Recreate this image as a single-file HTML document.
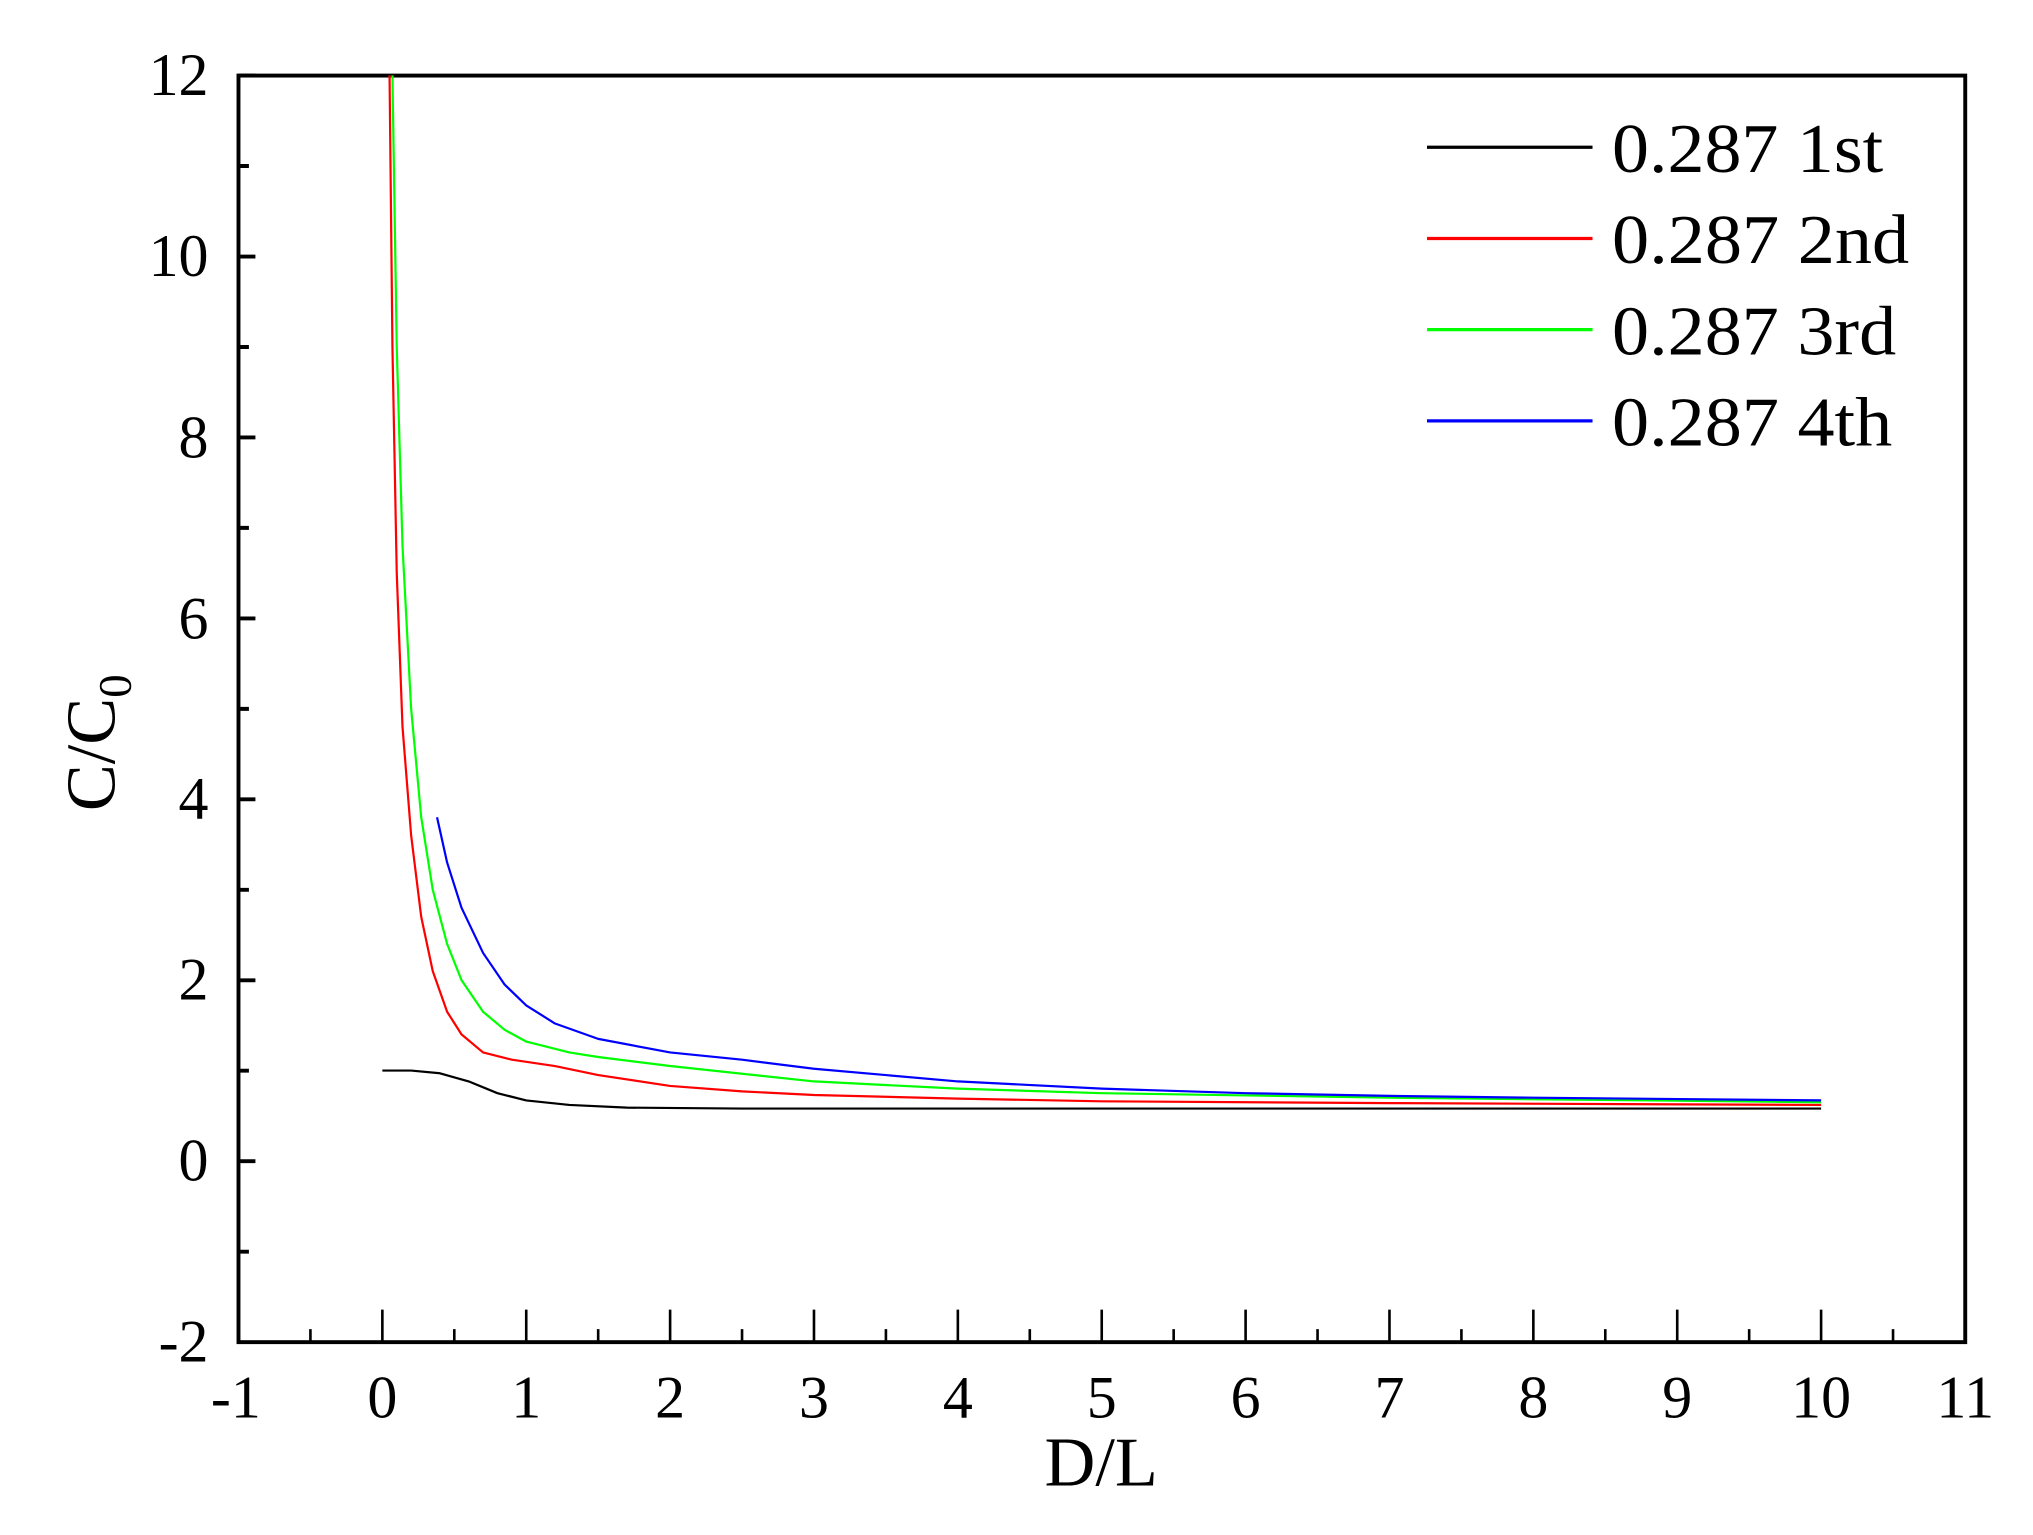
<!DOCTYPE html>
<html><head><meta charset="utf-8"><style>html,body{margin:0;padding:0;background:#fff}svg{display:block}</style></head>
<body>
<svg width="2033" height="1535" viewBox="0 0 1560 1178" preserveAspectRatio="none" xmlns="http://www.w3.org/2000/svg" font-family="Liberation Serif, serif">
<rect width="1560" height="1178" fill="#fff"/>
<g stroke="#000" stroke-width="3" fill="none">
<rect x="183" y="58" width="1325" height="972"/>
<!-- y ticks -->
<path d="M183 58h13M183 127.4h8M183 196.9h13M183 266.3h8M183 335.7h13M183 405.1h8M183 474.6h13M183 544h8M183 613.4h13M183 682.9h8M183 752.3h13M183 821.7h8M183 891.1h13M183 960.6h8"/>
<!-- x ticks -->
<g stroke-width="2">
<path d="M238.2 1030v-10M293.4 1030v-25M348.6 1030v-10M403.8 1030v-25M459 1030v-10M514.2 1030v-25M569.4 1030v-10M624.6 1030v-25M679.8 1030v-10M735 1030v-25M790.2 1030v-10M845.4 1030v-25M900.6 1030v-10M955.8 1030v-25M1011 1030v-10M1066.2 1030v-25M1121.4 1030v-10M1176.6 1030v-25M1231.8 1030v-10M1287 1030v-25M1342.2 1030v-10M1397.4 1030v-25M1452.6 1030v-10"/>
</g>
</g>
<g font-size="46" text-anchor="end" fill="#000">
<text x="160" y="73">12</text><text x="160" y="212">10</text><text x="160" y="351">8</text><text x="160" y="490">6</text><text x="160" y="628">4</text><text x="160" y="767">2</text><text x="160" y="906">0</text><text x="160" y="1045">-2</text>
</g>
<g font-size="46" text-anchor="middle" fill="#000">
<text x="181" y="1088">-1</text><text x="293.4" y="1088">0</text><text x="403.8" y="1088">1</text><text x="514.2" y="1088">2</text><text x="624.6" y="1088">3</text><text x="735" y="1088">4</text><text x="845.4" y="1088">5</text><text x="955.8" y="1088">6</text><text x="1066.2" y="1088">7</text><text x="1176.6" y="1088">8</text><text x="1287" y="1088">9</text><text x="1397.4" y="1088">10</text><text x="1508" y="1088">11</text>
</g>
<text x="845" y="1140" font-size="54" text-anchor="middle">D/L</text>
<text transform="translate(88,570) rotate(-90)" font-size="54" text-anchor="middle">C/C<tspan font-size="36" dy="12">0</tspan></text>
<g transform="translate(293.4,891) scale(110.4,-69.43)" fill="none" stroke-width="2.2" stroke-linejoin="round">
<polyline vector-effect="non-scaling-stroke" stroke="#000" points="0,1 0.2,1 0.4,0.97 0.6,0.88 0.8,0.75 1,0.67 1.3,0.62 1.7,0.59 2.5,0.58 10,0.58"/>
<polyline vector-effect="non-scaling-stroke" stroke="#f00" points="0.05,12 0.07,9 0.1,6.5 0.14,4.8 0.2,3.6 0.27,2.7 0.35,2.1 0.45,1.65 0.55,1.4 0.7,1.2 0.9,1.12 1.2,1.05 1.5,0.95 2,0.83 2.5,0.77 3,0.73 4,0.69 5,0.66 7,0.64 10,0.62"/>
<polyline vector-effect="non-scaling-stroke" stroke="#0f0" points="0.07,12 0.1,9 0.14,6.8 0.2,5 0.27,3.8 0.35,3 0.45,2.4 0.55,2 0.7,1.65 0.85,1.45 1,1.32 1.3,1.2 1.5,1.15 2,1.05 3,0.88 4,0.8 5,0.75 7,0.7 10,0.65"/>
<polyline vector-effect="non-scaling-stroke" stroke="#00f" points="0.38,3.8 0.45,3.3 0.55,2.8 0.7,2.3 0.85,1.95 1,1.72 1.2,1.52 1.5,1.35 2,1.2 2.5,1.12 3,1.02 4,0.88 5,0.8 6,0.75 7,0.72 8,0.7 10,0.67"/>
</g>
<g stroke-width="2.5">
<line x1="1095" y1="113" x2="1222" y2="113" stroke="#000"/>
<line x1="1095" y1="183" x2="1222" y2="183" stroke="#f00"/>
<line x1="1095" y1="253" x2="1222" y2="253" stroke="#0f0"/>
<line x1="1095" y1="323" x2="1222" y2="323" stroke="#00f"/>
</g>
<g font-size="54" fill="#000">
<text x="1237" y="132" textLength="208" lengthAdjust="spacingAndGlyphs">0.287 1st</text>
<text x="1237" y="202" textLength="228" lengthAdjust="spacingAndGlyphs">0.287 2nd</text>
<text x="1237" y="272" textLength="218" lengthAdjust="spacingAndGlyphs">0.287 3rd</text>
<text x="1237" y="342" textLength="215" lengthAdjust="spacingAndGlyphs">0.287 4th</text>
</g>
</svg>
</body></html>
